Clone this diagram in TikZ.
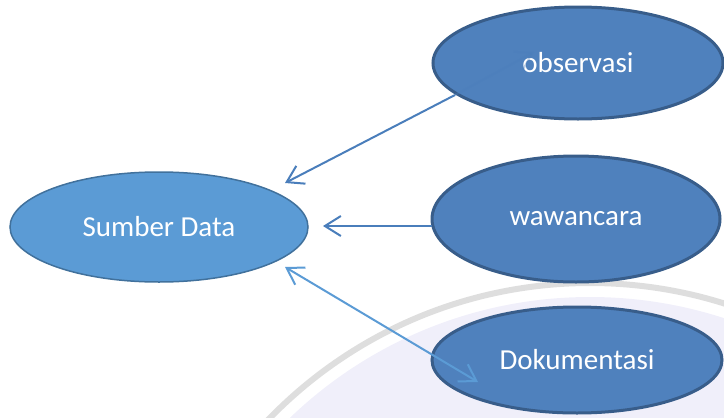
\documentclass[tikz,border=0pt]{standalone}
\usepackage{fontspec}
\setmainfont{Carlito}
\usetikzlibrary{shapes.geometric,arrows.meta}
\definecolor{darkfill}{HTML}{4F81BD}
\definecolor{darkline}{HTML}{385D8A}
\definecolor{lightfill}{HTML}{5B9BD5}
\definecolor{lightline}{HTML}{41719C}
\definecolor{arrowblue}{HTML}{4A7EBB}
\definecolor{arrowlight}{HTML}{5B9BD5}
\definecolor{wmgrey}{HTML}{DEDEDE}
\definecolor{wmlav}{HTML}{F0EFFA}
\begin{document}
\begin{tikzpicture}[x=1pt,y=-1pt,
  labelfont/.style={text=white, font=\fontsize{29}{34}\selectfont},
  srcnode/.style={ellipse, fill=lightfill, draw=lightline, line width=1.5pt,
    inner sep=0pt, labelfont},
  methnode/.style={ellipse, fill=darkfill, draw=darkline, line width=3pt,
    inner sep=0pt, labelfont},
  conn/.style={line width=2pt, draw=arrowblue},
  connlight/.style={line width=2pt, draw=arrowlight},
  >={Straight Barb[length=16pt,width=20pt]}
]
\useasboundingbox (0,0) rectangle (724,418);
% faint watermark
\begin{scope}
  \clip (0,0) rectangle (724,418);
  \fill[wmlav] (590,730) circle (433);
  \draw[wmgrey, line width=6pt] (590,730) circle (447);
\end{scope}
% nodes
\node[srcnode, minimum width=298pt, minimum height=110pt] (src) at (159,227) {Sumber Data};
\node[methnode, minimum width=290pt, minimum height=112pt] (obs) at (578,63) {observasi};
\node[methnode, minimum width=288pt, minimum height=126pt] (waw) at (576,219) {wawancara};
\node[methnode, minimum width=290pt, minimum height=106pt] (dok) at (577,360) {Dokumentasi};
% anchor points
\coordinate (obsIn) at (534,52);
\coordinate (obsEdge) at (455,95);
\coordinate (srcTop) at (285,183);
\coordinate (wawEdge) at (432,226);
\coordinate (srcRight) at (323,226);
\coordinate (srcLow) at (285,267);
\coordinate (dokIn) at (478,382);
% connectors
\draw[conn, opacity=0.35, <-] (obsIn) -- (obsEdge);
\draw[conn, ->] (obsEdge) -- (srcTop);
\draw[conn, ->] (wawEdge) -- (srcRight);
\draw[connlight, <->] (srcLow) -- (dokIn);
\end{tikzpicture}
\end{document}
